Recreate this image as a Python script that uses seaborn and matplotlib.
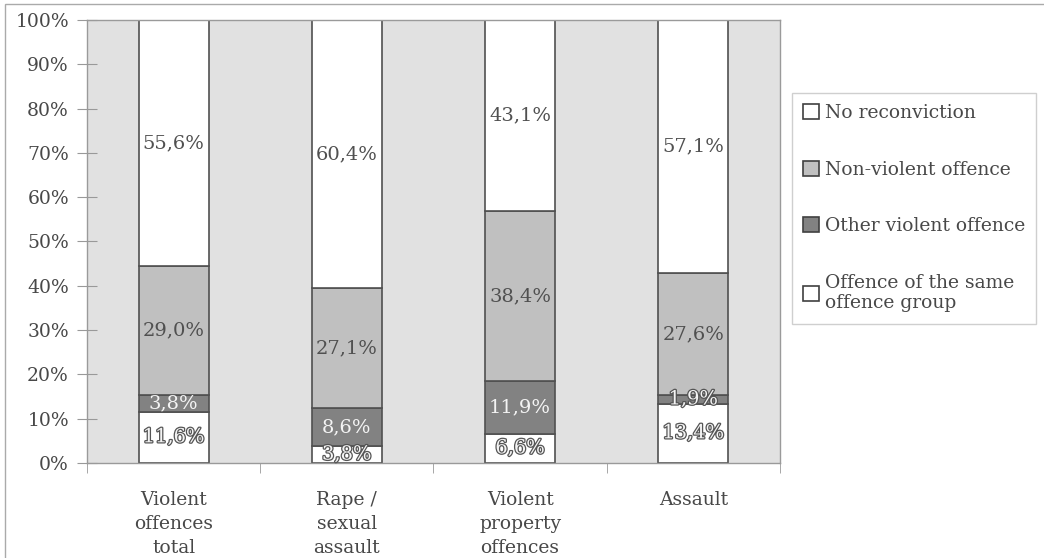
import numpy as np
import pandas as pd
import matplotlib
matplotlib.use('Agg')
import matplotlib.pyplot as plt
import matplotlib.patheffects as pe
from matplotlib.patches import Patch, Rectangle
import seaborn as sns

# data (percent)
categories = ['Violent\noffences\ntotal', 'Rape /\nsexual\nassault', 'Violent\nproperty\noffences', 'Assault']
same_group = [11.6, 3.8, 6.6, 13.4]
other_violent = [3.8, 8.6, 11.9, 1.9]
non_violent = [29.0, 27.1, 38.4, 27.6]
no_reconviction = [55.6, 60.4, 43.1, 57.1]

layers = [
    ('Offence of the same\noffence group', same_group, '#ffffff'),
    ('Other violent offence', other_violent, '#828282'),
    ('Non-violent offence', non_violent, '#c0c0c0'),
    ('No reconviction', no_reconviction, '#ffffff'),
]

sns.set_style('white')
plt.rcParams['font.family'] = ['DejaVu Serif']

fig = plt.figure(figsize=(10.44, 5.58), dpi=100)
ax = fig.add_axes([0.0833, 0.1703, 0.6638, 0.7939])
ax.set_facecolor('#e1e1e1')

bottom = np.zeros(len(categories))
for name, vals, col in layers:
    df = pd.DataFrame({'cat': categories, 'val': vals})
    sns.barplot(data=df, x='cat', y='val', ax=ax, color=col, width=0.405,
                bottom=bottom, edgecolor='#505050', linewidth=1.2, saturation=1)
    for i, v in enumerate(vals):
        y = bottom[i] + v / 2
        txt = f'{v:.1f}%'.replace('.', ',')
        if name.startswith('Offence') or v < 3:
            ax.text(i, y, txt, ha='center', va='center', fontsize=14, color='#f4f4f4',
                    path_effects=[pe.withStroke(linewidth=1.8, foreground='#555555')])
        elif name.startswith('Other'):
            ax.text(i, y, txt, ha='center', va='center', fontsize=14, color='#f4f4f4')
        else:
            ax.text(i, y, txt, ha='center', va='center', fontsize=14, color='#505050')
    bottom = bottom + np.array(vals)

ax.set_xlim(-0.5, 3.5)
ax.set_ylim(0, 100)
ax.set_yticks(np.arange(0, 101, 10))
ax.set_yticklabels([f'{t}%' for t in range(0, 101, 10)], fontsize=13.5, color='#484848')
ax.tick_params(axis='y', which='major', direction='inout', length=14, color='#999999', pad=6, left=True)
ax.set_xticks(range(len(categories)))
ax.set_xticklabels(categories, fontsize=13.5, color='#484848', linespacing=1.45)
ax.tick_params(axis='x', which='major', length=0, pad=20)
ax.set_xticks(np.arange(-0.5, 4, 1), minor=True)
ax.tick_params(axis='x', which='minor', direction='out', length=7, color='#999999', bottom=True)
ax.set_xlabel('')
ax.set_ylabel('')
for s in ax.spines.values():
    s.set_color('#9a9a9a')
    s.set_linewidth(1)

handles = [Patch(facecolor=c, edgecolor='#404040', linewidth=1.2, label=n) for n, v, c in layers[::-1]]
leg = fig.legend(handles=handles, loc='upper left', bbox_to_anchor=(0.7586, 0.8333),
                 borderaxespad=0, fontsize=13.5, frameon=True, fancybox=False,
                 edgecolor='#c4c4c4', handlelength=0.85, handleheight=0.85,
                 handletextpad=0.3, labelspacing=2.05, borderpad=0.6,
                 labelcolor='#484848')
leg.get_frame().set_linewidth(1)

fig.patches.append(Rectangle((0.005, -0.1), 1.1, 1.093, transform=fig.transFigure,
                             fill=False, edgecolor='#aaaaaa', linewidth=1))

fig.savefig('out.png', dpi=100)
